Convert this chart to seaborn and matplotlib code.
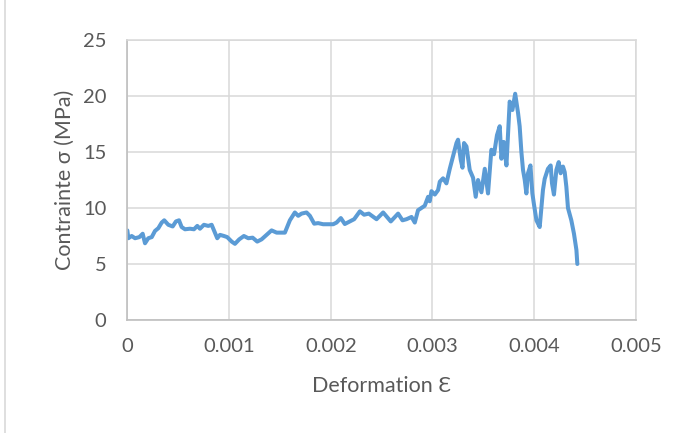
import numpy as np
import pandas as pd
import seaborn as sns
import matplotlib
matplotlib.use("Agg")
import matplotlib.pyplot as plt
from matplotlib.patches import Rectangle

# Strain readings in micro-strain, stress in MPa
strain_micro = [
    0, 10, 43, 76, 118, 151, 174, 206, 240, 272, 305, 338, 363, 403, 446, 478,
    508, 534, 567, 616, 655, 688, 714, 753, 796, 829, 852, 884, 911, 950, 982,
    1026, 1058, 1100, 1146, 1189, 1232, 1277, 1320, 1369, 1418, 1468, 1549,
    1598, 1647, 1680, 1713, 1762, 1795, 1837, 1876, 1925, 2024, 2057, 2099,
    2138, 2188, 2230, 2286, 2328, 2374, 2450, 2515, 2590, 2662, 2705, 2745,
    2794, 2826, 2858, 2892, 2924, 2957, 2973, 2990, 3023, 3055, 3072, 3104,
    3137, 3170, 3202, 3236, 3251, 3278, 3295, 3310, 3334, 3366, 3399, 3425,
    3448, 3481, 3514, 3546, 3579, 3605, 3634, 3661, 3678, 3700, 3727, 3759,
    3786, 3813, 3841, 3857, 3874, 3890, 3907, 3923, 3939, 3963, 3982, 3998,
    4022, 4054, 4071, 4086, 4103, 4135, 4162, 4175, 4194, 4218, 4241, 4260,
    4283, 4300, 4316, 4332, 4365, 4391, 4415, 4424,
]
stress_mpa = [
    8.0, 7.3, 7.5, 7.3, 7.4, 7.7, 6.85, 7.3, 7.4, 7.95, 8.2, 8.7, 8.9, 8.5,
    8.35, 8.8, 8.9, 8.3, 8.1, 8.15, 8.1, 8.4, 8.15, 8.5, 8.4, 8.5, 8.0, 7.3,
    7.6, 7.5, 7.4, 7.0, 6.8, 7.2, 7.5, 7.3, 7.35, 7.0, 7.2, 7.6, 8.0, 7.8,
    7.8, 8.9, 9.6, 9.3, 9.5, 9.6, 9.3, 8.6, 8.65, 8.55, 8.55, 8.7, 9.1, 8.57,
    8.8, 9.0, 9.7, 9.4, 9.5, 9.0, 9.6, 8.8, 9.5, 8.9, 9.0, 9.2, 8.7, 9.8,
    10.0, 10.2, 11.0, 10.6, 11.5, 11.2, 11.6, 12.35, 12.65, 12.2, 13.5, 14.6,
    15.8, 16.1, 14.3, 13.6, 15.8, 15.5, 13.4, 12.7, 11.0, 12.5, 11.4, 13.5,
    11.3, 15.2, 14.8, 16.5, 17.3, 14.4, 15.9, 13.8, 19.5, 18.75, 20.2, 18.5,
    17.3, 15.0, 13.4, 12.5, 11.3, 13.1, 13.8, 11.3, 10.3, 8.9, 8.3, 10.0,
    11.6, 12.6, 13.5, 13.8, 12.2, 11.2, 13.4, 14.1, 13.1, 13.7, 13.2, 11.9,
    10.0, 8.9, 7.7, 6.25, 5.0,
]

x_ticks = [0, 0.001, 0.002, 0.003, 0.004, 0.005]
x_tick_labels = ["0", "0.001", "0.002", "0.003", "0.004", "0.005"]
y_ticks = [0, 5, 10, 15, 20, 25]

df = pd.DataFrame({
    "strain": np.array(strain_micro) * 1e-6,
    "stress": stress_mpa,
})

sns.set_theme(style="white")
plt.rcParams["font.family"] = ["Lato", "DejaVu Sans"]

text_color = "#595959"
grid_color = "#d9d9d9"
line_color = "#5b9bd5"

fig = plt.figure(figsize=(6.86, 4.33), dpi=100)
ax = fig.add_axes([0.1856, 0.261, 0.927 - 0.1856, 0.9076 - 0.261])

sns.lineplot(data=df, x="strain", y="stress", sort=False, estimator=None,
             color=line_color, linewidth=2.9, ax=ax)

ax.set_xlim(0, 0.005)
ax.set_ylim(0, 25)
ax.set_xticks(x_ticks)
ax.set_xticklabels(x_tick_labels)
ax.set_yticks(y_ticks)
ax.grid(True, color=grid_color, linewidth=1.1)
ax.set_axisbelow(True)

ax.tick_params(axis="both", length=0, labelsize=14.5, colors=text_color)
ax.tick_params(axis="y", pad=15)
ax.tick_params(axis="x", pad=13)

for side in ("top", "right"):
    ax.spines[side].set_color(grid_color)
    ax.spines[side].set_linewidth(1.1)
for side in ("left", "bottom"):
    ax.spines[side].set_color("#bfbfbf")
    ax.spines[side].set_linewidth(1.2)

ax.set_xlabel("Deformation Ɛ", fontsize=15.5, color=text_color, labelpad=15)
ax.set_ylabel("Contrainte σ (MPa)", fontsize=15.5, color=text_color, labelpad=6)

# chart frame
fig.patches.append(Rectangle((5 / 686, -0.2), 1.2, 1.2 + (1 - 9.5 / 433),
                             transform=fig.transFigure, fill=False,
                             edgecolor=grid_color, linewidth=1.2))

fig.savefig("out.png", dpi=100)
